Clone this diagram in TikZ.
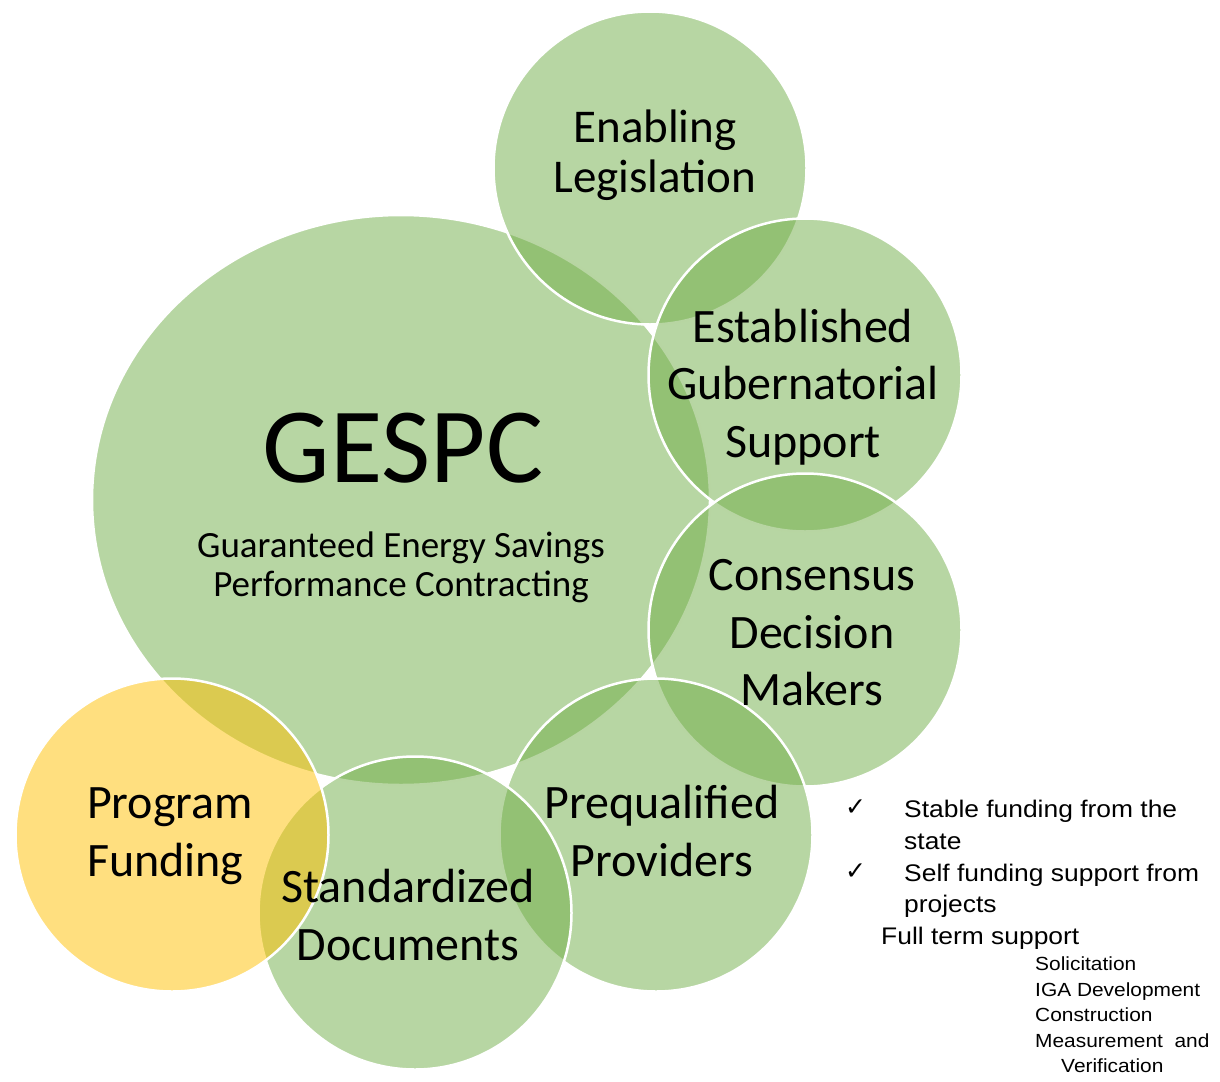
\documentclass[tikz,border=0pt]{standalone}
\usepackage{fontspec}
\usepackage{xcolor}
\usepackage{tikz}
\setmainfont{Carlito}
\newfontfamily\arialfont[FakeStretch=1.1]{Liberation Sans}
\newfontfamily\checkfont{DejaVu Sans}
\definecolor{leafgreen}{RGB}{112, 173, 71}
\definecolor{goldfill}{RGB}{255, 192, 0}
\usetikzlibrary{shapes.geometric, positioning}

\begin{document}
\begin{tikzpicture}[
    x=1pt, y=-1pt,
    bubble/.style={circle, draw=white, line width=2.5pt, fill=leafgreen,
                fill opacity=0.5, minimum size=313pt, inner sep=0pt},
    goldbubble/.style={bubble, fill=goldfill},
    bubbletext/.style={align=center, inner sep=0pt,
                font=\fontsize{48}{57.5}\selectfont},
    listtext/.style={inner sep=0pt, anchor=base west,
                font=\arialfont\fontsize{24}{31.5}\selectfont},
    subtext/.style={inner sep=0pt, anchor=base west,
                font=\arialfont\fontsize{19}{25.5}\selectfont},
    tick/.style={inner sep=0pt, anchor=base west,
                font=\checkfont\fontsize{25}{30}\selectfont}
]
    \useasboundingbox (0,0) rectangle (1220,1081);

    % Centre
    \node[bubble, ellipse, minimum width=618pt, minimum height=570pt] (gespc) at (401,500) {};

    % Outer ring
    \node[bubble] (enabling) at (650,168) {};
    \node[bubble] (governor) at (805,375) {};
    \node[bubble] (consensus) at (805,630) {};
    \node[bubble] (providers) at (656,835) {};
    \node[bubble] (documents) at (415,913) {};
    \node[goldbubble] (funding) at (172,835) {};

    % Labels
    \node[inner sep=0pt, font=\fontsize{107}{120}\selectfont] (gespctitle) at (403,448) {GESPC};
    \node[align=center, inner sep=0pt, font=\fontsize{37}{39}\selectfont] (gespcsub) at (401,567)
        {Guaranteed Energy Savings\\Performance Contracting};
    \node[bubbletext, font=\fontsize{47}{50}\selectfont] (enablingtext) at (655,155) {Enabling\\Legislation};
    \node[bubbletext] (governortext) at (803,387) {Established\\Gubernatorial\\Support};
    \node[bubbletext] (consensustext) at (812,633) {Consensus\\Decision\\Makers};
    \node[bubbletext] (providerstext) at (662,831) {Prequalified\\Providers};
    \node[bubbletext] (documentstext) at (408,915) {Standardized\\Documents};
    \node[bubbletext, align=left] (fundingtext) at (170,836) {Program\\Funding};

    % Funding notes
    \node[tick] (tickone) at (845,815) {✓};
    \node[listtext] (stable) at (904,817) {Stable funding from the};
    \node[listtext] (stabletail) at (904,849) {state};
    \node[tick] (ticktwo) at (845,879) {✓};
    \node[listtext] (selffund) at (904,881) {Self funding support from};
    \node[listtext] (selftail) at (904,912) {projects};
    \node[listtext] (fullterm) at (881,944) {Full term support};

    % Term steps
    \node[subtext] (solicit) at (1035,970) {Solicitation};
    \node[subtext] (iga) at (1035,996) {IGA Development};
    \node[subtext] (build) at (1035,1021) {Construction};
    \node[subtext] (measure) at (1035,1047) {Measurement\ \ and};
    \node[subtext] (verify) at (1061,1072) {Verification};
\end{tikzpicture}
\end{document}
